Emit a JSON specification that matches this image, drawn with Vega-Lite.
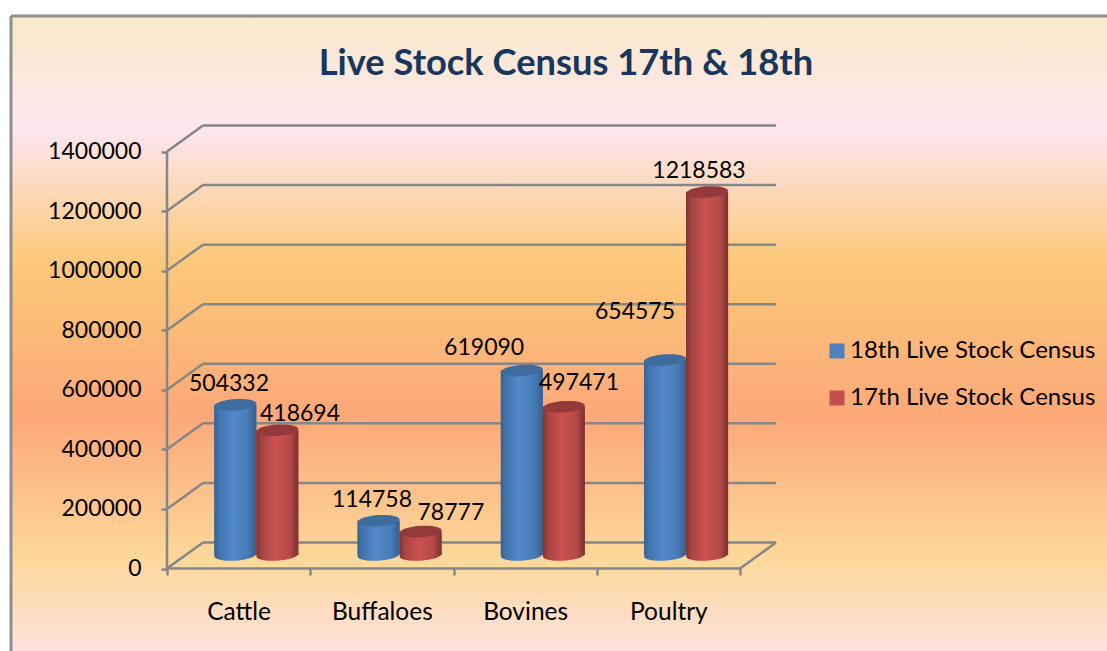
{
"$schema":"https://vega.github.io/schema/vega-lite/v6.json",
"autosize":"none",
"padding":{"left":11,"top":16,"right":0,"bottom":0},
"width":1096,"height":635,
"background":"#ffffff",
"view":{"stroke":null,"fill":{"gradient":"linear","x1":0,"y1":0,"x2":0,"y2":1,"stops":[
 {"offset":0,"color":"#FBEAC8"},{"offset":0.18,"color":"#FDE6F0"},{"offset":0.385,"color":"#FCC97A"},{"offset":0.63,"color":"#FCA878"},{"offset":0.855,"color":"#FCD89A"},{"offset":1,"color":"#FEE1DD"}]}},
"title":{"text":"Live Stock Census 17th & 18th","font":"Lato","fontSize":36.3,"fontWeight":"bold","color":"#17375E","anchor":"middle","offset":-68,"dx":7},
"config":{"font":"Lato","text":{"font":"Lato","fontSize":23,"color":"#000000"}},
"datasets":{
 "walls":[{"value":0},{"value":200000},{"value":400000},{"value":600000},{"value":800000},{"value":1000000},{"value":1200000},{"value":1400000}],
 "census":[
  {"category":"Cattle","series":"18th Live Stock Census","value":504332},
  {"category":"Cattle","series":"17th Live Stock Census","value":418694},
  {"category":"Buffaloes","series":"18th Live Stock Census","value":114758},
  {"category":"Buffaloes","series":"17th Live Stock Census","value":78777},
  {"category":"Bovines","series":"18th Live Stock Census","value":619090},
  {"category":"Bovines","series":"17th Live Stock Census","value":497471},
  {"category":"Poultry","series":"18th Live Stock Census","value":654575},
  {"category":"Poultry","series":"17th Live Stock Census","value":1218583}]
},
"encoding":{"y":{"field":"value","type":"quantitative","title":null,"stack":null,
 "scale":{"domain":[-276978,1854916],"nice":false,"zero":false},
 "axis":{"values":[0,200000,400000,600000,800000,1000000,1200000,1400000],"format":"d","offset":-156,"domain":false,"grid":false,"tickColor":"#868686","tickWidth":2.5,"tickSize":6,"labelFontSize":23,"labelColor":"#000000","labelFont":"Lato","labelPadding":20}}},
"layer":[
 {"data":{"name":"walls"},
  "encoding":{"x":{"datum":0,"type":"quantitative","axis":null,"scale":{"domain":[-1.08901,6.56195],"nice":false,"zero":false}}},
  "layer":[
   {"mark":{"type":"rule","stroke":"#868686","strokeWidth":2.5,"xOffset":36,"x2Offset":36,"yOffset":-26},"encoding":{"x2":{"datum":4}}},
   {"mark":{"type":"rule","stroke":"#868686","strokeWidth":2.5,"x2Offset":36,"y2Offset":-26},"encoding":{"x2":{"datum":0},"y2":{"field":"value"}}},
   {"transform":[{"filter":"datum.value==0"}],"mark":{"type":"rule","stroke":"#868686","strokeWidth":2.5},"encoding":{"x2":{"datum":4}}},
   {"transform":[{"filter":"datum.value==0"}],"mark":{"type":"rule","stroke":"#868686","strokeWidth":2.5,"x2Offset":36,"y2Offset":-26},"encoding":{"x":{"datum":4,"type":"quantitative","axis":null,"scale":{"domain":[-1.08901,6.56195],"nice":false,"zero":false}},"x2":{"datum":4},"y2":{"field":"value"}}},
   {"transform":[{"filter":"datum.value==0"}],"mark":{"type":"rule","stroke":"#868686","strokeWidth":2.5},"encoding":{"y":{"datum":0,"type":"quantitative"},"y2":{"datum":1400000}}},
   {"transform":[{"filter":"datum.value==0"}],"mark":{"type":"rule","stroke":"#8E8E8E","strokeWidth":3},"encoding":{"x":{"datum":-1.08901,"type":"quantitative","axis":null,"scale":{"domain":[-1.08901,6.56195],"nice":false,"zero":false}},"y":{"datum":-276978,"type":"quantitative"},"y2":{"datum":1854916}}},
   {"transform":[{"filter":"datum.value==0"}],"mark":{"type":"rule","stroke":"#8E8E8E","strokeWidth":3},"encoding":{"x":{"datum":-1.08901,"type":"quantitative","axis":null,"scale":{"domain":[-1.08901,6.56195],"nice":false,"zero":false}},"x2":{"datum":6.56195},"y":{"datum":1854916,"type":"quantitative"}}}
  ]},
 {"data":{"name":"census"},
  "encoding":{"x":{"field":"category","type":"nominal","title":null,"sort":null,
    "scale":{"domain":["Cattle","Buffaloes","Bovines","Poultry"],"range":[156,729],"paddingInner":0,"paddingOuter":0},
    "axis":{"orient":"bottom","offset":-83,"domain":false,"grid":false,"tickBand":"extent","tickColor":"#868686","tickWidth":2.5,"tickSize":7,"labelAngle":0,"labelFontSize":24.5,"labelColor":"#000000","labelFont":"Lato","labelPadding":25}}},
  "layer":[
   {"transform":[{"filter":"datum.series=='18th Live Stock Census'"}],"layer":[
    {"mark":{"type":"point","filled":true,"opacity":1,"size":1764,"xOffset":-3.3,"yOffset":-13.5,"shape":"M-1,0.06 A1,0.27 -4 1 1 1,-0.06 A1,0.27 -4 1 1 -1,0.06 Z","fill":{"gradient":"linear","x1":0,"y1":0,"x2":1,"y2":0,"stops":[{"offset":0,"color":"#37628F"},{"offset":0.12,"color":"#4275AE"},{"offset":0.45,"color":"#5289CC"},{"offset":0.8,"color":"#477BB6"},{"offset":1,"color":"#365F8C"}]}},"encoding":{"y":{"datum":0,"type":"quantitative"}}},
    {"mark":{"type":"bar","size":42,"xOffset":-3.3,"x2Offset":-3.3,"yOffset":-13.5,"y2Offset":-13.5},"encoding":{"y2":{"datum":0},"color":{"field":"series","type":"nominal","scale":{"domain":["18th Live Stock Census","17th Live Stock Census"],"range":["#4F81BD","#C0504D"]},"legend":{"orient":"none","legendX":814,"legendY":323,"title":null,"symbolType":"square","symbolSize":225,"symbolStrokeWidth":0,"labelFontSize":24,"labelFont":"Lato","labelColor":"#000000","labelOffset":1,"labelLimit":400,"rowPadding":23,"symbolOpacity":1}}}},
    {"mark":{"type":"bar","size":42,"xOffset":-3.3,"x2Offset":-3.3,"yOffset":-13.5,"y2Offset":-13.5,"fill":{"gradient":"linear","x1":0,"y1":0,"x2":1,"y2":0,"stops":[{"offset":0,"color":"#37628F"},{"offset":0.12,"color":"#4275AE"},{"offset":0.45,"color":"#5289CC"},{"offset":0.8,"color":"#477BB6"},{"offset":1,"color":"#365F8C"}]}},"encoding":{"y2":{"datum":0}}},
    {"mark":{"type":"point","filled":true,"opacity":1,"size":1764,"xOffset":-3.3,"yOffset":-13.5,"shape":"M-1,0.06 A1,0.27 -4 1 1 1,-0.06 A1,0.27 -4 1 1 -1,0.06 Z","fill":"#3F6C9E"}}
   ]},
   {"transform":[{"filter":"datum.series=='17th Live Stock Census'"}],"layer":[
    {"mark":{"type":"point","filled":true,"opacity":1,"size":1764,"xOffset":38.7,"yOffset":-13.5,"shape":"M-1,0.06 A1,0.27 -4 1 1 1,-0.06 A1,0.27 -4 1 1 -1,0.06 Z","fill":{"gradient":"linear","x1":0,"y1":0,"x2":1,"y2":0,"stops":[{"offset":0,"color":"#7F3332"},{"offset":0.12,"color":"#A54441"},{"offset":0.45,"color":"#CC5250"},{"offset":0.8,"color":"#B54A48"},{"offset":1,"color":"#7A3130"}]}},"encoding":{"y":{"datum":0,"type":"quantitative"}}},
    {"mark":{"type":"bar","size":42,"xOffset":38.7,"x2Offset":38.7,"yOffset":-13.5,"y2Offset":-13.5},"encoding":{"y2":{"datum":0},"color":{"field":"series","type":"nominal"}}},
    {"mark":{"type":"bar","size":42,"xOffset":38.7,"x2Offset":38.7,"yOffset":-13.5,"y2Offset":-13.5,"fill":{"gradient":"linear","x1":0,"y1":0,"x2":1,"y2":0,"stops":[{"offset":0,"color":"#7F3332"},{"offset":0.12,"color":"#A54441"},{"offset":0.45,"color":"#CC5250"},{"offset":0.8,"color":"#B54A48"},{"offset":1,"color":"#7A3130"}]}},"encoding":{"y2":{"datum":0}}},
    {"mark":{"type":"point","filled":true,"opacity":1,"size":1764,"xOffset":38.7,"yOffset":-13.5,"shape":"M-1,0.06 A1,0.27 -4 1 1 1,-0.06 A1,0.27 -4 1 1 -1,0.06 Z","fill":"#943A3A"}}
   ]},
   {"transform":[{"filter":"datum.value==504332"}],"mark":{"type":"text","dx":-9.6,"dy":-34},"encoding":{"text":{"field":"value","format":"d"}}},
   {"transform":[{"filter":"datum.value==418694"}],"mark":{"type":"text","dx":61.4,"dy":-30},"encoding":{"text":{"field":"value","format":"d"}}},
   {"transform":[{"filter":"datum.value==114758"}],"mark":{"type":"text","dx":-9.9,"dy":-34},"encoding":{"text":{"field":"value","format":"d"}}},
   {"transform":[{"filter":"datum.value==78777"}],"mark":{"type":"text","dx":69,"dy":-32},"encoding":{"text":{"field":"value","format":"d"}}},
   {"transform":[{"filter":"datum.value==619090"}],"mark":{"type":"text","dx":-41,"dy":-36},"encoding":{"text":{"field":"value","format":"d"}}},
   {"transform":[{"filter":"datum.value==497471"}],"mark":{"type":"text","dx":53.9,"dy":-37},"encoding":{"text":{"field":"value","format":"d"}}},
   {"transform":[{"filter":"datum.value==654575"}],"mark":{"type":"text","dx":-33.4,"dy":-61.5},"encoding":{"text":{"field":"value","format":"d"}}},
   {"transform":[{"filter":"datum.value==1218583"}],"mark":{"type":"text","dx":30.6,"dy":-34.5},"encoding":{"text":{"field":"value","format":"d"}}}
  ]}
],
"resolve":{"scale":{"x":"independent"},"axis":{"x":"independent"}}
}
